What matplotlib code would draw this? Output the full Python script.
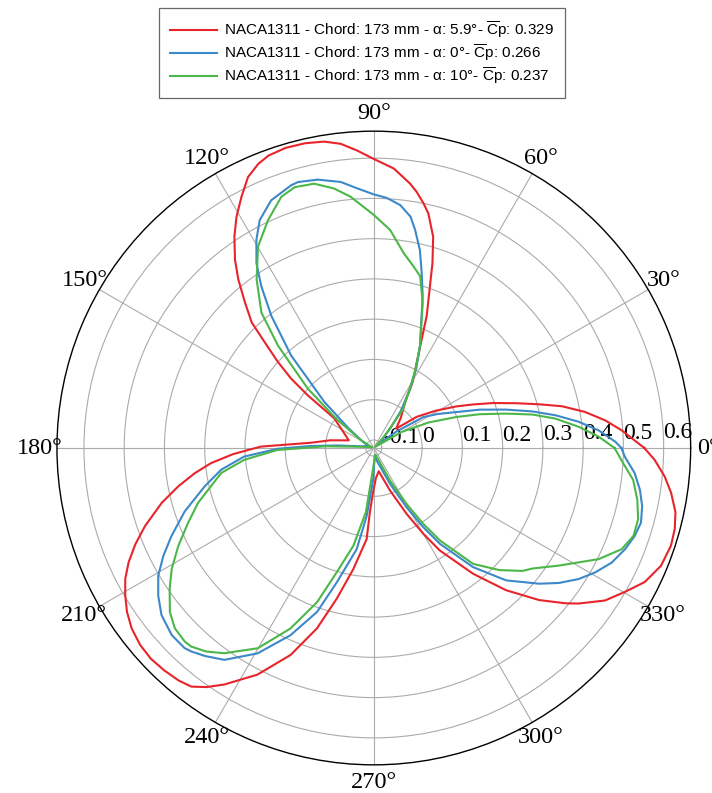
import matplotlib.pyplot as plt
import numpy as np

# azimuth (deg) and power coefficient
red_theta = [0, 4.1, 6.8, 9.7, 12.5, 14.8, 17.5, 20.7, 23.7, 26.8, 31, 36, 41, 48, 55.8, 59.5,
             63.4, 68.2, 72.4, 74.3, 76.9, 78.5, 80.5, 82.2, 85.9, 90, 93.2, 96.2, 99.2, 102.7,
             106.4, 109.8, 112.1, 114.9, 117.8, 120.7, 123.4, 126.4, 128.8, 131.5, 134.2, 135.9,
             138.1, 140, 141.4, 143.1, 150, 163, 170, 175.3, 179.3, 182.5, 185.3, 188, 191.1,
             194.5, 198.8, 202, 205, 207.8, 210.7, 213.6, 216.7, 220.1, 223.4, 226.7, 230,
             232.6, 235, 237.7, 242.8, 248.1, 252.5, 256.2, 260.4, 265.5, 266.5, 269, 274, 282,
             291, 296.5, 300, 302.8, 308.3, 312.9, 317.4, 321, 322.8, 326.6, 330.2, 333.7, 337.7,
             341.8, 345, 348, 351.4, 354.4, 357.6, 360]
red_cp = [0.552, 0.497, 0.459, 0.412, 0.359, 0.305, 0.25, 0.196, 0.149, 0.109, 0.06, 0.012,
          -0.047, -0.02, 0.019, 0.07, 0.119, 0.234, 0.362, 0.425, 0.478, 0.50, 0.525, 0.543,
          0.576, 0.598, 0.62, 0.64, 0.651, 0.656, 0.657, 0.652, 0.642, 0.622, 0.585, 0.548,
          0.509, 0.461, 0.417, 0.363, 0.315, 0.257, 0.20, 0.148, 0.09, 0.003, -0.028, -0.055,
          -0.01, 0.038, 0.161, 0.23, 0.286, 0.329, 0.375, 0.424, 0.48, 0.519, 0.552, 0.578,
          0.598, 0.616, 0.63, 0.639, 0.642, 0.639, 0.634, 0.626, 0.605, 0.575, 0.513, 0.434,
          0.35, 0.265, 0.185, 0.107, 0.04, -0.01, -0.045, -0.061, -0.006, 0.063, 0.126, 0.183,
          0.278, 0.362, 0.438, 0.493, 0.519, 0.568, 0.599, 0.631, 0.651, 0.657, 0.654, 0.646,
          0.627, 0.606, 0.578, 0.552]

blue_theta = [0, 1.5, 4.5, 7.3, 10.2, 13, 16.2, 19.9, 23.5, 28, 32, 36, 40, 45, 50, 54, 58.5,
              62, 65.7, 72.2, 74.7, 76.9, 79.3, 81, 83.8, 87, 90, 93.6, 97.1, 101.8, 105.9, 107.5,
              112.5, 116.6, 119.4, 122.4, 124.8, 127.8, 131.8, 133.6, 137, 142, 149, 160, 172,
              176, 178.2, 180.5, 183.8, 188.1, 192.8, 198.5, 203.5, 207.1, 210.6, 214.4, 218.2,
              222.8, 226.6, 228.1, 231, 234.8, 240.5, 246, 250.9, 254.6, 260.4, 264, 268.8, 276,
              284, 294.5, 299, 302, 304.6, 309.8, 315, 320.6, 323.9, 327.4, 330.7, 334.3, 338.1,
              341.4, 344.4, 347.8, 351.1, 354.5, 358, 360]
blue_cp = [0.495, 0.48, 0.44, 0.393, 0.339, 0.284, 0.222, 0.16, 0.104, 0.06, 0.025, -0.05,
           -0.105, -0.095, -0.056, -0.005, 0.053, 0.105, 0.159, 0.277, 0.331, 0.385, 0.432,
           0.462, 0.487, 0.502, 0.51, 0.526, 0.546, 0.561, 0.567, 0.564, 0.546, 0.513, 0.474,
           0.424, 0.37, 0.295, 0.188, 0.118, 0.048, -0.04, -0.085, -0.105, -0.09, -0.03, 0.038,
           0.12, 0.203, 0.263, 0.311, 0.375, 0.428, 0.467, 0.502, 0.529, 0.551, 0.564, 0.564,
           0.559, 0.545, 0.524, 0.466, 0.389, 0.311, 0.226, 0.135, 0.05, -0.041, -0.1, -0.086,
           -0.021, 0.049, 0.112, 0.169, 0.265, 0.345, 0.411, 0.449, 0.484, 0.511, 0.536, 0.553,
           0.564, 0.569, 0.562, 0.549, 0.531, 0.504, 0.495]

green_theta = [0, 2.9, 5.9, 9.2, 11.9, 14.6, 17.7, 20.6, 25, 30, 40, 48, 53, 58.5, 62, 65.7, 71.4,
               74.9, 77.7, 81.3, 85.7, 90, 95.3, 98.7, 102.7, 106.9, 110.2, 114.9, 119.9, 124.8,
               129.7, 133.1, 138, 142, 148, 160, 174, 178, 181.2, 185.2, 189.3, 197.3, 201.9,
               206.6, 210.9, 214.6, 218.8, 222.2, 225.7, 227.4, 230.5, 233.9, 239.9, 245.2, 249.8,
               253.4, 258.2, 263, 270, 284, 296.6, 300.4, 303.1, 305.6, 310.6, 315.8, 320.4, 322.8,
               327.6, 330.3, 333.7, 337.8, 341.3, 344.9, 348.9, 353, 357, 360]
green_cp = [0.478, 0.439, 0.392, 0.337, 0.283, 0.219, 0.156, 0.099, 0.03, -0.04, -0.115, -0.08,
            0.0, 0.05, 0.1, 0.159, 0.261, 0.322, 0.342, 0.37, 0.423, 0.459, 0.507, 0.532, 0.553,
            0.557, 0.545, 0.504, 0.457, 0.39, 0.317, 0.228, 0.101, 0.0, -0.08, -0.115, -0.09,
            0.0, 0.12, 0.203, 0.264, 0.337, 0.377, 0.423, 0.465, 0.496, 0.53, 0.547, 0.552, 0.55,
            0.535, 0.511, 0.455, 0.374, 0.288, 0.202, 0.128, 0.04, -0.08, -0.103, -0.028, 0.042,
            0.105, 0.163, 0.259, 0.315, 0.359, 0.375, 0.425, 0.456, 0.503, 0.545, 0.561, 0.56,
            0.547, 0.529, 0.497, 0.478]

labels = [
    r'NACA1311 - Chord: 173 mm - α: 5.9°- $\overline{\mathrm{C}}$p: 0.329',
    r'NACA1311 - Chord: 173 mm - α: 0°- $\overline{\mathrm{C}}$p: 0.266',
    r'NACA1311 - Chord: 173 mm - α: 10°- $\overline{\mathrm{C}}$p: 0.237',
]
colors = ['#e8242b', '#3c88c8', '#4cb748']

r_ticks = [-0.1, 0, 0.1, 0.2, 0.3, 0.4, 0.5, 0.6]
r_ticklabels = ['-0.1', '0', '0.1', '0.2', '0.3', '0.4', '0.5', '0.6']
theta_ticks = list(range(0, 360, 30))

plt.rcParams['mathtext.fontset'] = 'custom'
plt.rcParams['mathtext.rm'] = 'Liberation Sans'

fig = plt.figure(figsize=(7.12, 7.93), dpi=100)
ax = fig.add_axes([0.080, 0.0353, 0.890, 0.7995], projection='polar')

for th, cp, c, lab in zip([red_theta, blue_theta, green_theta], [red_cp, blue_cp, green_cp],
                          colors, labels):
    ax.plot(np.deg2rad(th), cp, color=c, lw=1.5, label=lab)

ax.set_ylim(-0.12, 0.667)
ax.set_yticks(r_ticks, r_ticklabels, ha='left', va='bottom',
              fontsize=17, family='Liberation Serif')
ax.set_rlabel_position(1)
ax.set_xticks(np.deg2rad(theta_ticks), [f'{t}°' for t in theta_ticks],
              fontsize=17.5, family='Liberation Serif')
ax.tick_params(axis='x', pad=2)
ax.grid(color='#ababab', lw=0.8)
ax.spines['polar'].set_color('black')
ax.spines['polar'].set_linewidth(1.0)

leg = fig.legend(loc='upper center', bbox_to_anchor=(0.508, 0.99), borderaxespad=0,
                 prop={'family': ['Liberation Sans', 'DejaVu Sans'], 'size': 11},
                 fancybox=False, edgecolor='#444444', borderpad=0.75,
                 handlelength=3.1, handletextpad=0.4, labelspacing=0.15)
leg.get_frame().set_linewidth(0.9)

fig.savefig('out.png', dpi=100)
